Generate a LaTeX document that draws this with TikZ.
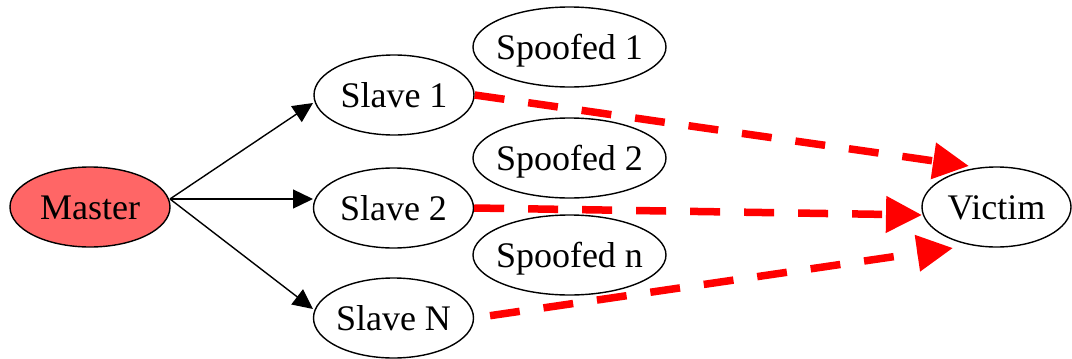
\documentclass[tikz,border=0pt]{standalone}
\usepackage{fontspec}
\setmainfont{Liberation Serif}
\usetikzlibrary{shapes.geometric,arrows.meta,calc}
\definecolor{masterfill}{RGB}{255,102,102}
\newcommand\ctext[1]{\makebox[0pt][c]{#1}}
\tikzset{
  oval/.style={ellipse, draw=black, line width=1.4pt, inner sep=0pt,
    minimum width=160pt, minimum height=80pt,
    font=\fontsize{36}{40}\selectfont, text height=24pt, text depth=0pt},
  wideoval/.style={oval, minimum width=193pt},
  victimoval/.style={oval, minimum width=149pt},
  ctrl/.style={draw=black, line width=1.4pt, -{Triangle[length=20pt,width=19pt]}},
  flood/.style={draw=red, line width=7.5pt, dash pattern=on 30pt off 24pt,
    -{Triangle[length=36pt,width=35pt]}}
}
\begin{document}
\begin{tikzpicture}[x=1pt,y=-1pt]
\useasboundingbox (0,0) rectangle (1072,359);

% hosts
\node[oval, fill=masterfill] (master) at (90,207) {\ctext{Master}};
\node[oval] (slave1) at (394,95) {\ctext{Slave 1}};
\node[oval] (slave2) at (393.5,208) {\ctext{Slave 2}};
\node[oval] (slaveN) at (393.5,318) {\ctext{Slave N}};
\node[wideoval] (spoof1) at (569.5,47) {\ctext{Spoofed 1}};
\node[wideoval] (spoof2) at (569.5,158) {\ctext{Spoofed 2}};
\node[wideoval] (spoofn) at (569.5,255) {\ctext{Spoofed n}};
\node[victimoval] (victim) at (996.5,207) {\ctext{Victim}};

% control channel from the master
\coordinate (mout) at ($(master.center)+(80,-8)$);
\draw[ctrl] (mout) -- ($(slave1.center)+(-81,8)$);
\draw[ctrl] (mout) -- ($(slave2.center)+(-80.5,-9)$);
\draw[ctrl] (mout) -- ($(slaveN.center)+(-80.5,-9)$);

% flooding traffic towards the victim
\draw[flood] (slave1.east) -- ($(victim.center)+(-27.5,-41)$);
\draw[flood] (slave2.east) -- ($(victim.center)+(-74.5,8)$);
\draw[flood, shorten <=16pt] (slaveN.east) -- ($(victim.center)+(-43.5,41)$);
\end{tikzpicture}
\end{document}
